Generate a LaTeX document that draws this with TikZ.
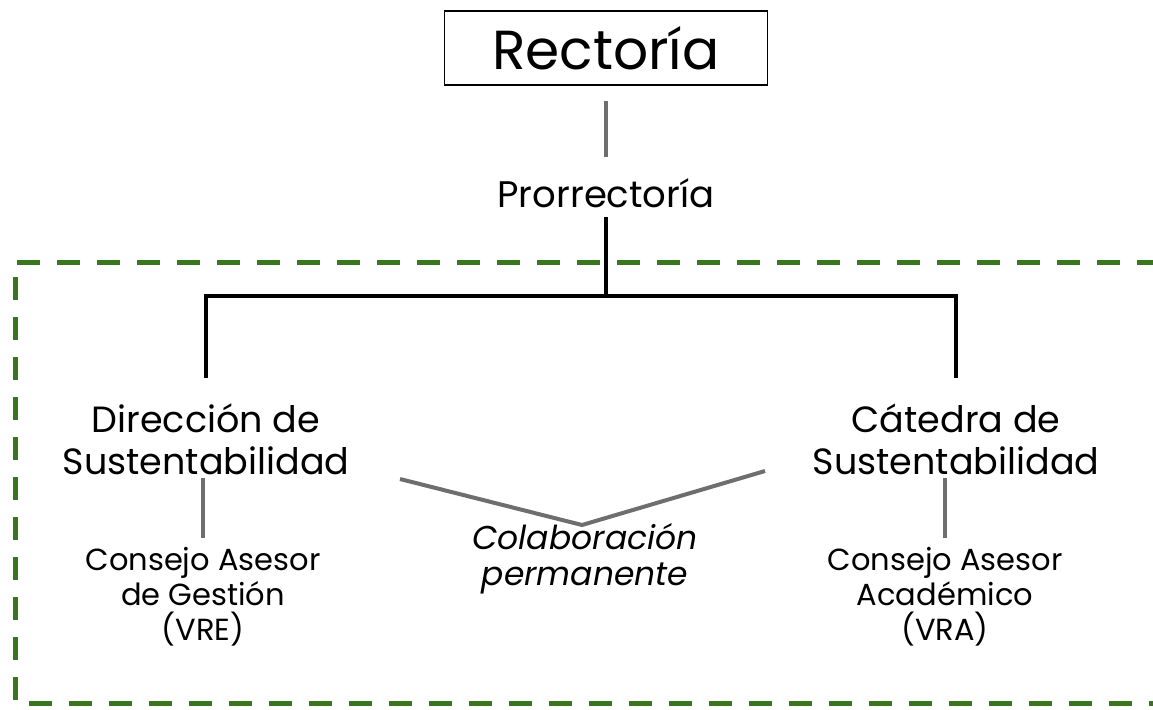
\documentclass[tikz,border=0pt]{standalone}
\usepackage{fontspec}
\setmainfont{Poppins}
\definecolor{marco}{HTML}{38761D}
\definecolor{gris}{HTML}{6E6E6E}
\tikzset{
  caja/.style={draw,line width=1.2pt,minimum width=323pt,minimum height=74pt,inner sep=0pt},
  texto/.style={align=center,inner sep=0pt},
  gline/.style={draw=gris,line width=4.5pt},
  kline/.style={draw=black,line width=3.2pt},
}
\begin{document}
\begin{tikzpicture}[x=1pt,y=-1pt]
                \useasboundingbox (0,0) rectangle (1153,709);
                \draw[marco,line width=5pt,dash pattern=on 23pt off 17pt] (1160,262)--(15,262)--(15,703)--(1160,703);
                \node[caja,font=\fontsize{55}{60}\selectfont] (rect) at (606,48) {Rectoría};
                \node[texto,font=\fontsize{37}{40}\selectfont] (prorr) at (606,193) {Prorrectoría};
                \node[texto,font=\fontsize{36.5}{42}\selectfont] (dir) at (206,439) {Dirección de\\Sustentabilidad};
                \node[texto,font=\fontsize{36.5}{42}\selectfont] (cat) at (956,439) {Cátedra de\\Sustentabilidad};
                \node[texto,font=\fontsize{30.5}{35}\selectfont] (cag) at (203,597) {Consejo Asesor\\de Gestión\\(VRE)};
                \node[texto,font=\fontsize{30.5}{35}\selectfont] (caa) at (945,597) {Consejo Asesor\\Académico\\(VRA)};
                \node[texto,font=\fontsize{33}{36}\selectfont\itshape] (colab) at (585,559) {Colaboración\\permanente};
                \coordinate (v) at (582,525);
                \draw[gline] (606,101)--(606,157);
                \draw[kline] (prorr.south |- 0,217)--(606,296);
                \draw[kline] (206,378)--(206,296)--(956,296)--(956,378);
                \draw[gline] (203,478)--(203,538);
                \draw[gline] (945,478)--(945,538);
                \draw[gline,line width=4pt] (400,479)--(v)--(765,471);
\end{tikzpicture}
\end{document}
